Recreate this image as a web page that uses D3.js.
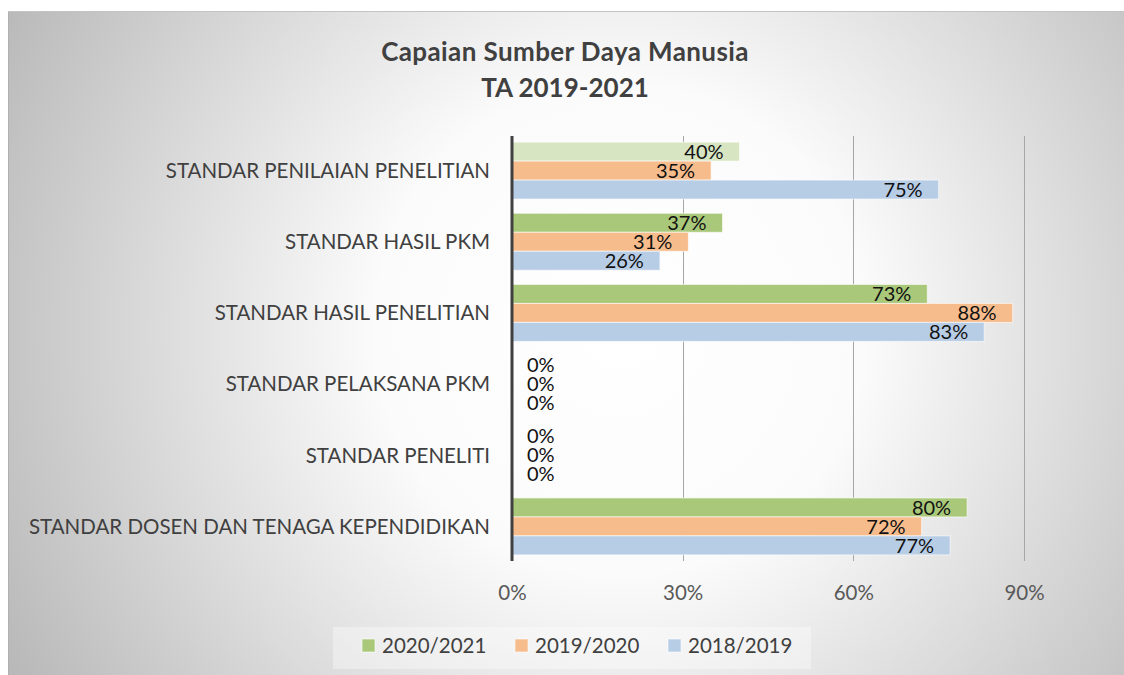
<!DOCTYPE html>
<html>
<head>
<meta charset="utf-8">
<script src="https://cdn.jsdelivr.net/npm/d3@7"></script>
<style>
  body { margin: 0; background: #fff; }
  svg { display: block; font-family: Lato, "Open Sans", sans-serif; }
</style>
</head>
<body>
<div id="chart"></div>
<script>
// Categories, top to bottom
var categories = ["STANDAR PENILAIAN PENELITIAN", "STANDAR HASIL PKM", "STANDAR HASIL PENELITIAN",
	"STANDAR PELAKSANA PKM", "STANDAR PENELITI", "STANDAR DOSEN DAN TENAGA KEPENDIDIKAN"];

var seriesNames = ["2020/2021", "2019/2020", "2018/2019"];

var values2021 = [0.40, 0.37, 0.73, 0, 0, 0.80];
var values2020 = [0.35, 0.31, 0.88, 0, 0, 0.72];
var values2019 = [0.75, 0.26, 0.83, 0, 0, 0.77];

var tickValues = [0, 0.3, 0.6, 0.9];

var colors = ["#a9c879", "#f7bc8c", "#b7cce5"];
// the first point of 2020/2021 is drawn paler in the original
var paleGreen = "#d8e5c2";

var width = 1124, height = 675;

var svg = d3.select("#chart").append("svg")
	.attr("width", width)
	.attr("height", height);

// Background gradient
var defs = svg.append("defs");
var grad = defs.append("radialGradient")
	.attr("id", "bg")
	.attr("gradientUnits", "userSpaceOnUse")
	.attr("cx", 620).attr("cy", 330).attr("r", 700);
grad.append("stop").attr("offset", "0%").attr("stop-color", "#ffffff");
grad.append("stop").attr("offset", "35%").attr("stop-color", "#fbfbfb");
grad.append("stop").attr("offset", "100%").attr("stop-color", "#b8b8b8");

svg.append("rect")
	.attr("x", 8).attr("y", 11)
	.attr("width", width - 8).attr("height", height - 11)
	.attr("fill", "url(#bg)");
svg.append("line")
	.attr("x1", 8.5).attr("x2", 8.5).attr("y1", 11).attr("y2", height)
	.attr("stroke", "#b0b0b0");
svg.append("line")
	.attr("x1", 8).attr("x2", width).attr("y1", 11.5).attr("y2", 11.5)
	.attr("stroke", "#c4c4c4");

// Title
svg.append("text")
	.attr("x", 565).attr("y", 61)
	.attr("text-anchor", "middle")
	.attr("font-size", "26px").attr("font-weight", "bold")
	.attr("letter-spacing", "0.4px")
	.attr("fill", "#404040")
	.text("Capaian Sumber Daya Manusia");
svg.append("text")
	.attr("x", 565).attr("y", 97)
	.attr("text-anchor", "middle")
	.attr("font-size", "26px").attr("font-weight", "bold")
	.attr("fill", "#404040")
	.text("TA 2019-2021");

// Scales
var x = d3.scaleLinear().domain([0, 0.9]).range([512, 1024]);

var y = d3.scaleBand()
	.domain(categories)
	.range([135, 562])
	.paddingInner(0.2)
	.paddingOuter(0.1);

var ySub = d3.scaleBand()
	.domain(seriesNames)
	.range([0, y.bandwidth()]);

// Gridlines
svg.append("g")
	.selectAll("line")
	.data(tickValues.slice(1))
	.enter().append("line")
	.attr("x1", function(d) { return Math.round(x(d)) + 0.5; })
	.attr("x2", function(d) { return Math.round(x(d)) + 0.5; })
	.attr("y1", 136).attr("y2", 561)
	.attr("stroke", "#a6a6a6")
	.attr("stroke-width", 1);

// Bars
var rows = categories.map(function(c, i) {
	return {cat: c, vals: [values2021[i], values2020[i], values2019[i]]};
});

var groups = svg.append("g").selectAll("g")
	.data(rows)
	.enter().append("g")
	.attr("transform", function(d) { return "translate(0," + y(d.cat) + ")"; });

groups.selectAll("rect")
	.data(function(d, gi) {
		return d.vals.map(function(v, si) { return {v: v, s: si, g: gi}; });
	})
	.enter().append("rect")
	.attr("x", x(0))
	.attr("y", function(d) { return ySub(seriesNames[d.s]); })
	.attr("width", function(d) { return x(d.v) - x(0); })
	.attr("height", ySub.bandwidth())
	.attr("fill", function(d) {
		return (d.g === 0 && d.s === 0) ? paleGreen : colors[d.s];
	})
	.attr("stroke", "#ffffff")
	.attr("stroke-opacity", 0.6)
	.attr("stroke-width", 1);

// Data labels
groups.selectAll("text")
	.data(function(d) {
		return d.vals.map(function(v, si) { return {v: v, s: si}; });
	})
	.enter().append("text")
	.attr("x", function(d) { return d.v > 0 ? x(d.v) - 16 : x(0) + 15; })
	.attr("y", function(d) { return ySub(seriesNames[d.s]) + ySub.bandwidth() / 2; })
	.attr("dy", "0.36em")
	.attr("text-anchor", function(d) { return d.v > 0 ? "end" : "start"; })
	.attr("font-size", "20px")
	.attr("fill", "#111111")
	.text(function(d) { return Math.round(d.v * 100) + "%"; });

// Vertical axis line
svg.append("line")
	.attr("x1", x(0)).attr("x2", x(0))
	.attr("y1", 136).attr("y2", 561)
	.attr("stroke", "#404040")
	.attr("stroke-width", 3);

// Category labels
svg.append("g").selectAll("text")
	.data(categories)
	.enter().append("text")
	.attr("x", 490)
	.attr("y", function(d) { return y(d) + y.bandwidth() / 2; })
	.attr("dy", "0.36em")
	.attr("text-anchor", "end")
	.attr("font-size", "20.5px")
	.attr("fill", "#404040")
	.text(function(d) { return d; });

// X axis tick labels
var xAxis = d3.axisBottom(x)
	.tickValues(tickValues)
	.tickSize(0)
	.tickPadding(0)
	.tickFormat(d3.format(".0%"));

var gx = svg.append("g")
	.attr("transform", "translate(0,585)")
	.call(xAxis);
gx.select(".domain").remove();
gx.selectAll("text")
	.attr("font-family", "Lato, sans-serif")
	.attr("font-size", "20.5px")
	.attr("fill", "#595959");

// Legend
svg.append("rect")
	.attr("x", 333).attr("y", 627)
	.attr("width", 478).attr("height", 42)
	.attr("fill", "#ffffff")
	.attr("fill-opacity", 0.35);

var legendX = [362, 515, 668];
var legend = svg.append("g").selectAll("g")
	.data(seriesNames)
	.enter().append("g")
	.attr("transform", function(d, i) { return "translate(" + legendX[i] + ",639)"; });

legend.append("rect")
	.attr("width", 13).attr("height", 13)
	.attr("fill", function(d, i) { return colors[i]; })
	.attr("stroke", "#ffffff")
	.attr("stroke-opacity", 0.6);

legend.append("text")
	.attr("x", 20).attr("y", 7)
	.attr("dy", "0.36em")
	.attr("font-size", "20.5px")
	.attr("fill", "#404040")
	.text(function(d) { return d; });
</script>
</body>
</html>
